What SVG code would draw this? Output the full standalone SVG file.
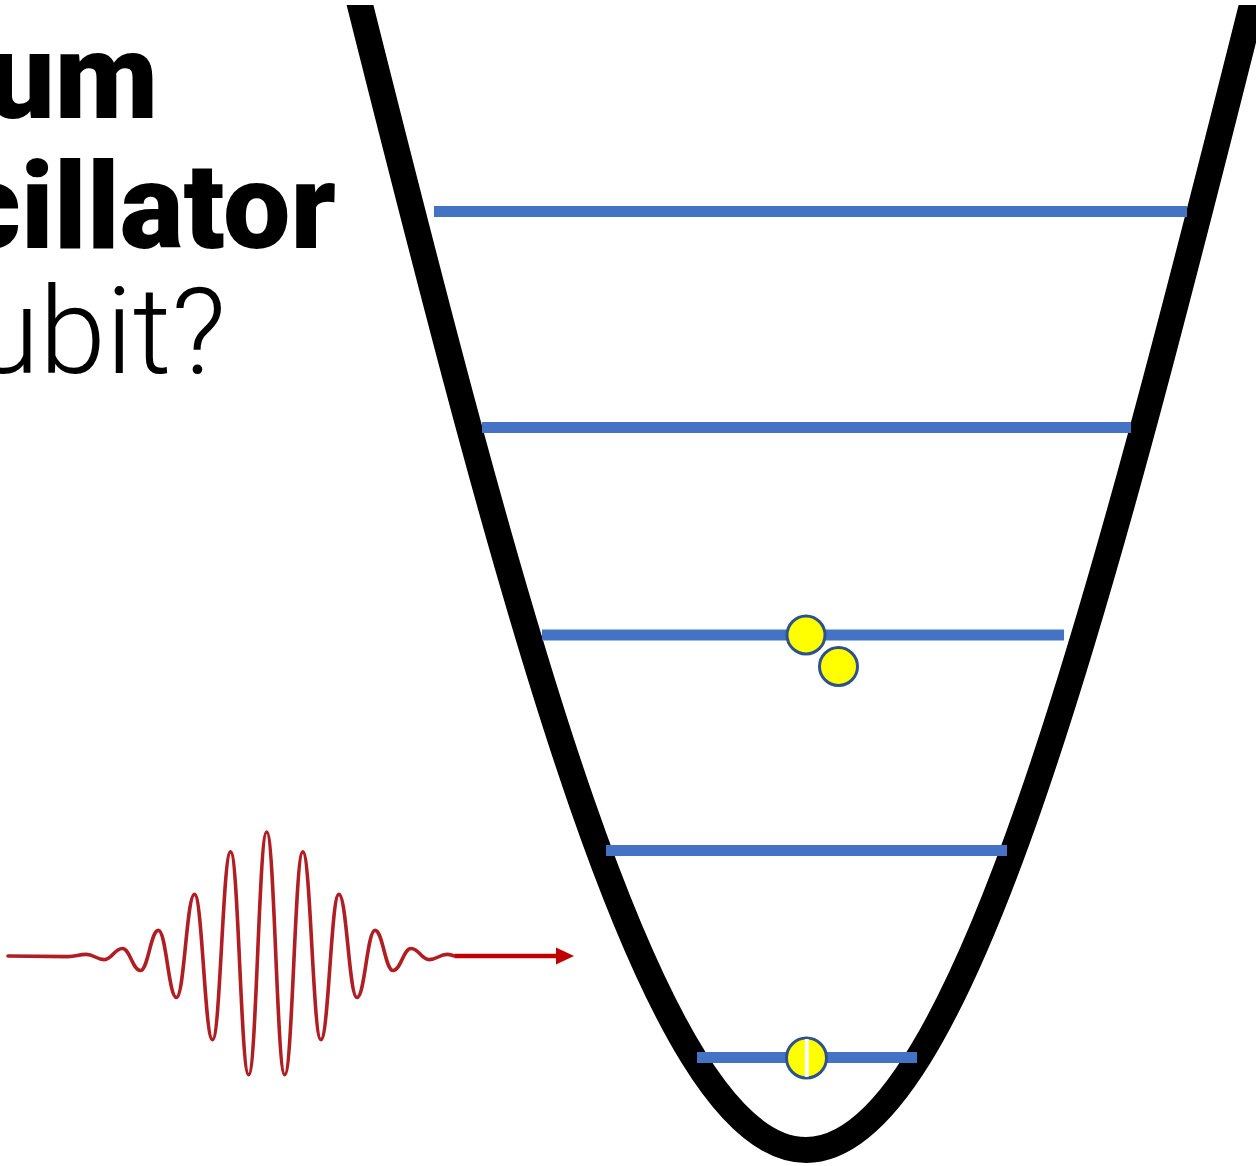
<svg xmlns="http://www.w3.org/2000/svg" width="1256" height="1166" viewBox="0 0 1256 1166">
  <style>
    .title { font-family: Roboto, "Liberation Sans", sans-serif; font-size: 120px; fill: #000; }
    .bold { font-weight: 900; }
    .light { font-weight: 300; }
    .level { stroke: #4472C4; stroke-width: 11; fill: none; }
    .ball { fill: #FFFF00; stroke: #2F528F; stroke-width: 3; }
  </style>
  <defs>
    <clipPath id="topClip"><rect x="0" y="5" width="1256" height="1161"/></clipPath>
    <clipPath id="ballClip"><circle cx="806.5" cy="1058" r="19"/></clipPath>
  </defs>
  <rect width="1256" height="1166" fill="#FFFFFF"/>

  <g id="title">
    <text class="title bold" x="158" y="118" text-anchor="end">um</text>
    <text class="title bold" x="336" y="248" text-anchor="end">cillator</text>
    <text class="title light" x="226" y="373" text-anchor="end">ubit?</text>
  </g>

  <g id="potential">
    <path d="M353.75,-20 L360,5 C512,610 652,1150 806,1150 C960,1150 1100,610 1252,5 L1258.25,-20" fill="none" stroke="#000" stroke-width="26" clip-path="url(#topClip)"/>
  </g>

  <g id="levels">
    <line class="level" x1="434" y1="211.5" x2="1187" y2="211.5"/>
    <line class="level" x1="482" y1="427.5" x2="1131" y2="427.5"/>
    <line class="level" x1="542" y1="635" x2="1064" y2="635"/>
    <line class="level" x1="606" y1="850.5" x2="1007" y2="850.5"/>
    <line class="level" x1="697" y1="1057.5" x2="917" y2="1057.5"/>
  </g>

  <g id="particle-excited-1">
    <circle class="ball" cx="806" cy="635" r="19"/>
  </g>
  <g id="particle-excited-2">
    <circle class="ball" cx="838.5" cy="666.5" r="19"/>
  </g>
  <g id="particle-ground">
    <circle class="ball" cx="806.5" cy="1058" r="20"/>
    <line x1="806.8" y1="1036" x2="806.8" y2="1080" stroke="#FFFFFF" stroke-width="4" clip-path="url(#ballClip)"/>
  </g>

  <g id="pulse">
    <path d="M8,956 L68.15,956.6 C75.95,956.6 78.4,954.4 86.2,954.4 C94,954.4 96.45,959.6 104.25,959.6 C112.05,959.6 114.5,948.5 122.3,948.5 C130.1,948.5 132.55,970.5 140.35,970.5 C148.15,970.5 150.6,930.4 158.4,930.4 C166.2,930.4 168.65,997.5 176.45,997.5 C184.25,997.5 186.7,894.4 194.5,894.4 C202.3,894.4 204.75,1039.6 212.55,1039.6 C220.35,1039.6 222.8,851.9 230.6,851.9 C238.4,851.9 240.85,1074.7 248.65,1074.7 C256.45,1074.7 258.9,832 266.7,832 C274.5,832 276.95,1074.7 284.75,1074.7 C292.55,1074.7 295,851.9 302.8,851.9 C310.6,851.9 313.05,1039.6 320.85,1039.6 C328.65,1039.6 331.1,894.4 338.9,894.4 C346.7,894.4 349.15,997.5 356.95,997.5 C364.75,997.5 367.2,930.4 375,930.4 C382.8,930.4 385.25,970.5 393.05,970.5 C400.85,970.5 403.3,948.5 411.1,948.5 C418.9,948.5 421.35,959.6 429.15,959.6 C436.95,959.6 439.4,954.4 447.2,954.4 C452,954.4 452,956 456,956" fill="none" stroke="#B01E23" stroke-width="3.6" stroke-linejoin="round" stroke-linecap="round"/>
  </g>

  <g id="connectors">
    <line x1="455" y1="956" x2="560" y2="956" stroke="#C00000" stroke-width="4.5"/>
    <polygon points="556,947.5 574,956 556,964.5" fill="#C00000"/>
  </g>
</svg>
